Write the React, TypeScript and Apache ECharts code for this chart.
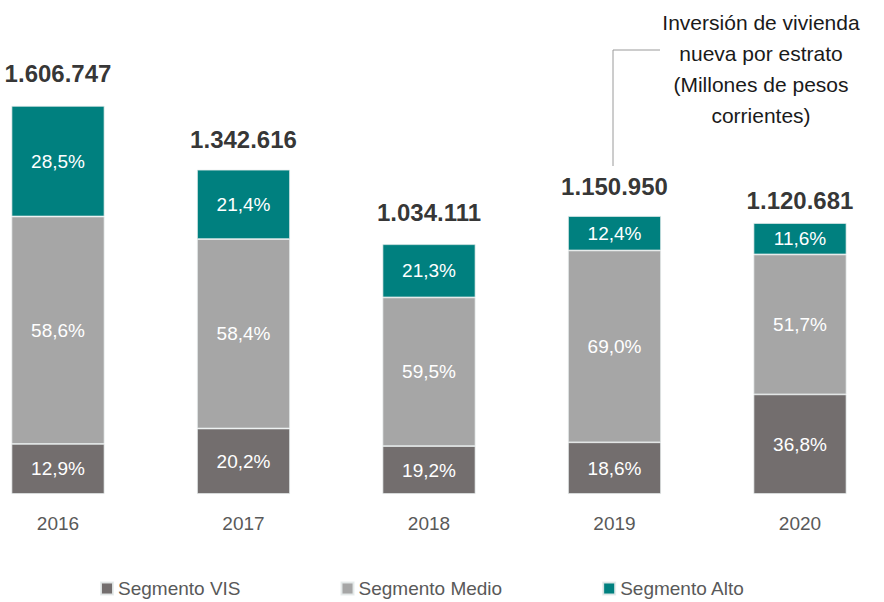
import React, { useEffect, useRef } from "react";
import * as echarts from "echarts";

const years = ["2016", "2017", "2018", "2019", "2020"];
const totals = [1606747, 1342616, 1034111, 1150950, 1120681];
const totalLabels = ["1.606.747", "1.342.616", "1.034.111", "1.150.950", "1.120.681"];
const pctVIS = [12.9, 20.2, 19.2, 18.6, 36.8];
const pctMedio = [58.6, 58.4, 59.5, 69.0, 51.7];
const pctAlto = [28.5, 21.4, 21.3, 12.4, 11.6];
const totalLabelDistance = [20, 18, 19, 17, 10];

const FONT = "'Liberation Sans', Arial, sans-serif";

const fmtPct = (v: number) => v.toFixed(1).replace(".", ",") + "%";

export default function App() {
  const ref = useRef<HTMLDivElement>(null);
  useEffect(() => {
    if (!ref.current) return;
    const chart = echarts.init(ref.current, null, { renderer: "svg" });
    const seg = (name: string, pcts: number[], color: string) => ({
      name,
      type: "bar",
      stack: "total",
      barWidth: 93,
      data: pcts.map((p, i) => ({ value: (totals[i] * p) / 100, pct: p })),
      itemStyle: { color, borderColor: "rgba(230,235,235,0.9)", borderWidth: 0.8 },
      label: {
        show: true,
        position: "inside",
        color: "#ffffff",
        fontFamily: FONT,
        fontSize: 19,
        formatter: (p: any) => fmtPct(p.data.pct),
      },
    });
    chart.setOption({
      animation: false,
      grid: { left: 58, right: 84, top: 94, bottom: 108, containLabel: false },
      xAxis: {
        type: "category",
        data: years,
        boundaryGap: false,
        axisLine: { show: false },
        axisTick: { show: false },
        axisLabel: { color: "#595959", fontFamily: FONT, fontSize: 19, margin: 20 },
      },
      yAxis: { type: "value", min: 0, max: 1656000, show: false, splitLine: { show: false } },
      legend: {
        left: 100,
        top: 579,
        padding: 0,
        itemWidth: 12,
        itemHeight: 12,
        itemGap: 100,
        icon: "rect",
        textStyle: { color: "#595959", fontFamily: FONT, fontSize: 19 },
        data: ["Segmento VIS", "Segmento Medio", "Segmento Alto"],
      },
      series: [
        seg("Segmento VIS", pctVIS, "#736E6E"),
        seg("Segmento Medio", pctMedio, "#A6A6A6"),
        seg("Segmento Alto", pctAlto, "#00807F"),
        {
          name: "Total",
          type: "scatter",
          symbolSize: 1,
          itemStyle: { color: "rgba(0,0,0,0)" },
          data: totals.map((t, i) => ({
            value: [i, t],
            label: { distance: totalLabelDistance[i] },
          })),
          label: {
            show: true,
            position: "top",
            color: "#000000",
            fontFamily: FONT,
            fontWeight: "bold",
            fontSize: 24,
            formatter: (p: any) => totalLabels[p.dataIndex],
          },
        },
      ],
      graphic: [
        {
          type: "text",
          x: 761,
          y: 7,
          style: {
            text: "Inversión de vivienda\nnueva por estrato\n(Millones de pesos\ncorrientes)",
            align: "center",
            verticalAlign: "top",
            fill: "#1a1a1a",
            font: `21px ${FONT}`,
            lineHeight: 31,
          },
        },
        {
          type: "polyline",
          shape: { points: [[660, 50], [613, 50], [613, 166]] },
          style: { stroke: "#9a9a9a", lineWidth: 1, fill: "none" },
        },
      ],
    });
    return () => chart.dispose();
  }, []);
  return <div ref={ref} style={{ width: 884, height: 602, position: "absolute", left: 0, top: 0 }} />;
}
